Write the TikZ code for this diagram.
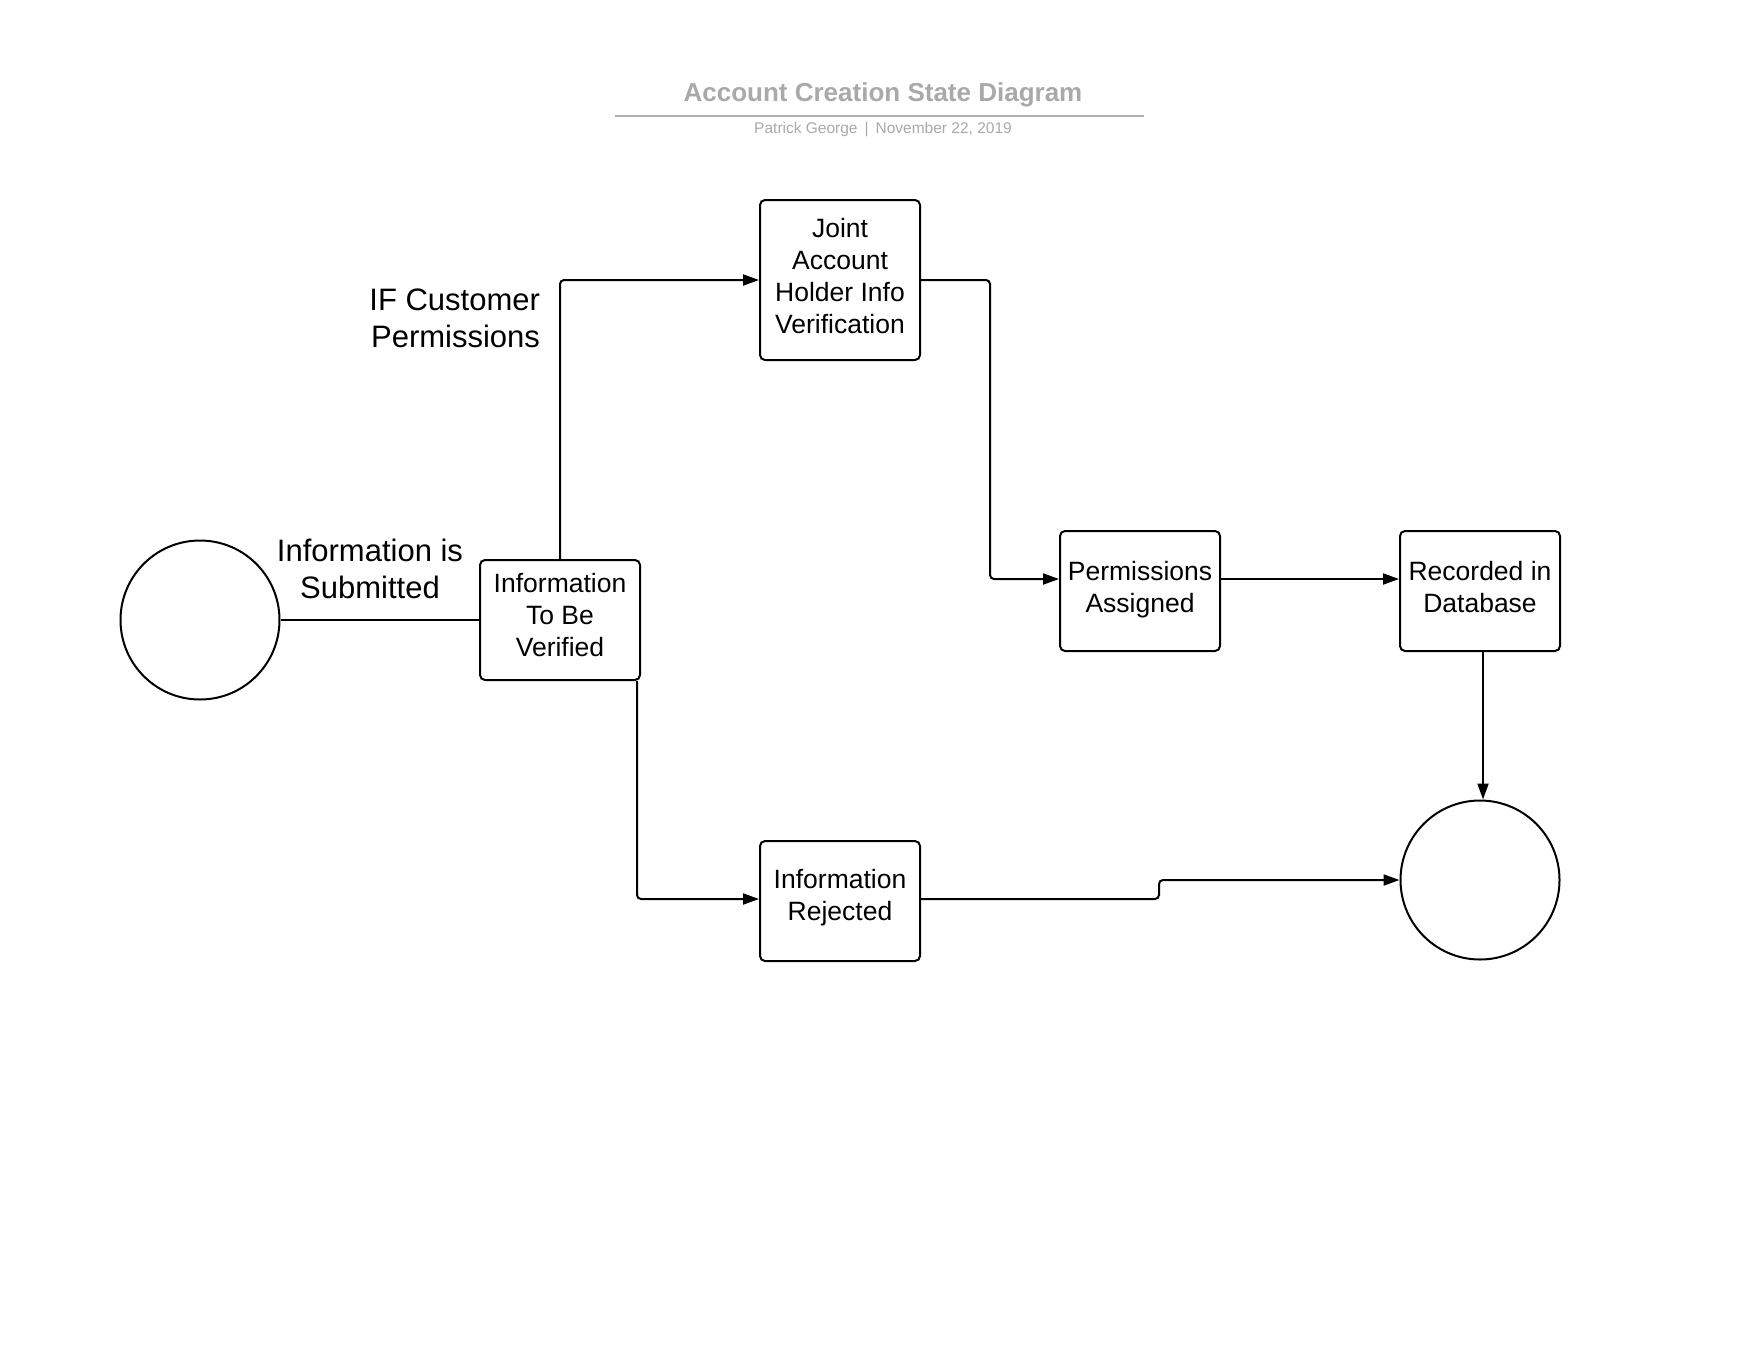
\documentclass[tikz,border=0pt]{standalone}
\usepackage{fontspec}
\setmainfont{Liberation Sans}
\usetikzlibrary{arrows.meta}
\definecolor{titlegrey}{HTML}{A9A9A9}
\begin{document}
\begin{tikzpicture}[x=1pt,y=-1pt,
  box/.style={draw, line width=2pt, rounded corners=5pt, minimum width=160pt, minimum height=120pt, inner sep=0pt},
  txt/.style={align=center, font=\fontsize{26.5}{32}\selectfont, inner sep=0pt},
  state/.style={draw, line width=2pt, circle, minimum size=159pt, inner sep=0pt},
  conn/.style={line width=2pt, rounded corners=4pt},
  arr/.style={conn, -{Triangle[length=16pt,width=11pt]}},
  lbl/.style={font=\fontsize{31}{37}\selectfont}
]
\useasboundingbox (0,0) rectangle (1760,1360);
% title
\node[text=titlegrey, font=\bfseries\fontsize{26}{30}\selectfont] (title) at (883,94.5) {Account Creation State Diagram};
\draw[titlegrey!90, line width=2pt] (615,115.5) coordinate (tl) -- (1144,115.5) coordinate (tr);
\node[text=titlegrey, font=\fontsize{15.5}{18}\selectfont] (sub) at (883,129.5) {Patrick George\hspace{7pt}|\hspace{7pt}November 22, 2019};

% nodes
\node[state] (start) at (200,620) {};
\node[box, label={[txt, yshift=4.6pt]center:{Information\\To Be\\Verified}}] (v) at (560,620) {};
\node[box, minimum height=160pt, label={[txt, yshift=4pt]center:{Joint\\Account\\Holder Info\\Verification}}] (j) at (840,280) {};
\node[box, label={[txt, yshift=1.6pt]center:{Permissions\\Assigned}}] (p) at (1140,591) {};
\node[box, label={[txt, yshift=4pt]center:{Recorded in\\Database}}] (r) at (1480,591) {};
\node[box, label={[txt, yshift=3.4pt]center:{Information\\Rejected}}] (x) at (840,901) {};
\node[state] (end) at (1480,880) {};

% labels
\node[lbl, align=right, anchor=east] (l1) at (543.5,318) {IF Customer\\Permissions};
\node[lbl, align=center] (l2) at (370,569) {Information is\\Submitted};

% connectors
\draw[conn] (start.east) -- (v.west);
\draw[arr] (v.north) |- (j.west);
\draw[arr] (j.east) -- (990,280) -- (990,579) -- ([yshift=12pt]p.west);
\draw[arr] ([yshift=12pt]p.east) -- ([yshift=12pt]r.west);
\draw[arr] ([xshift=3pt]r.south) -- ([xshift=3pt]end.north);
\draw[arr] ([xshift=77pt]v.south) |- ([yshift=2pt]x.west);
\draw[arr] ([yshift=2pt]x.east) -- (1159,899) -- (1159,880) -- (end.west);
\end{tikzpicture}
\end{document}
